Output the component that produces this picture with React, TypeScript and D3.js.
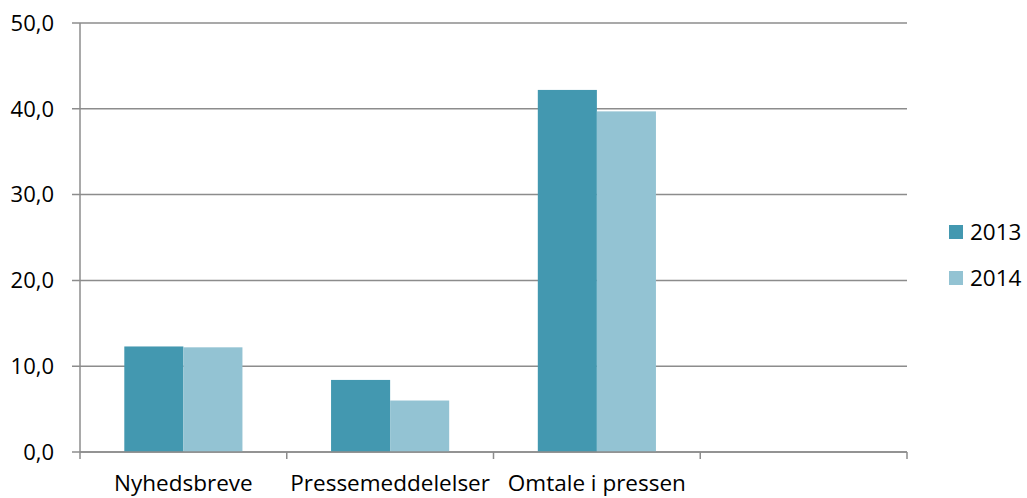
import * as d3 from 'd3';
import { useEffect, useRef } from 'react';

const categories = ['Nyhedsbreve', 'Pressemeddelelser', 'Omtale i pressen', ''];
const seriesNames = ['2013', '2014'];
const values2013 = [12.3, 8.4, 42.2];
const values2014 = [12.2, 6.0, 39.7];
const yTicks = [0, 10, 20, 30, 40, 50];
const colors = ['#4398B0', '#93C3D3'];

function App(): JSX.Element {
  const svgRef = useRef<SVGSVGElement | null>(null);
  const width = 1027;
  const height = 498;
  const margin = { top: 23, right: 120, bottom: 46, left: 80 };

  useEffect(() => {
    if (svgRef.current) svgRef.current.innerHTML = '';
    const svg = d3.select(svgRef.current);
    const font = '"Open Sans", Calibri, sans-serif';
    const gray = '#8c8c8c';
    const fs = 22.5;

    const x = d3
      .scaleBand()
      .domain(categories.map((c, i) => `${i}`))
      .range([margin.left, width - margin.right])
      .paddingInner(0)
      .paddingOuter(0);
    const y = d3
      .scaleLinear()
      .domain([0, 50])
      .range([height - margin.bottom, margin.top]);

    const bw = x.bandwidth();
    // excel-style gap width 150%
    const barW = bw / 3.5;

    // gridlines
    yTicks.forEach((t) => {
      svg
        .append('line')
        .attr('x1', margin.left - 8)
        .attr('x2', width - margin.right)
        .attr('y1', y(t))
        .attr('y2', y(t))
        .attr('stroke', gray)
        .attr('stroke-width', 1.5);
      svg
        .append('text')
        .attr('x', 54)
        .attr('y', y(t))
        .attr('dy', '0.35em')
        .attr('text-anchor', 'end')
        .attr('font-family', font)
        .attr('font-size', 22)
        .attr('fill', '#000')
        .text(d3.format('.1f')(t).replace('.', ','));
    });

    // bars
    const series = [values2013, values2014];
    series.forEach((vals, s) => {
      vals.forEach((v, i) => {
        const x0 = (x(`${i}`) as number) + (bw - 2 * barW) / 2 + s * barW;
        svg
          .append('rect')
          .attr('x', x0)
          .attr('y', y(v))
          .attr('width', barW)
          .attr('height', y(0) - y(v))
          .attr('fill', colors[s]);
      });
    });

    // axes
    svg
      .append('line')
      .attr('x1', margin.left)
      .attr('x2', margin.left)
      .attr('y1', y(50))
      .attr('y2', y(0) + 7)
      .attr('stroke', gray)
      .attr('stroke-width', 1.5);
    svg
      .append('line')
      .attr('x1', margin.left)
      .attr('x2', width - margin.right)
      .attr('y1', y(0))
      .attr('y2', y(0))
      .attr('stroke', gray)
      .attr('stroke-width', 1.5);

    categories.forEach((c, i) => {
      const xs = (x(`${i}`) as number) + bw;
      svg
        .append('line')
        .attr('x1', xs)
        .attr('x2', xs)
        .attr('y1', y(0))
        .attr('y2', y(0) + 7)
        .attr('stroke', gray)
        .attr('stroke-width', 1.5);
      svg
        .append('text')
        .attr('x', (x(`${i}`) as number) + bw / 2)
        .attr('y', 491)
        .attr('text-anchor', 'middle')
        .attr('font-family', font)
        .attr('font-size', fs)
        .attr('fill', '#000')
        .text(c);
    });

    // legend
    seriesNames.forEach((n, i) => {
      const ly = 232 + i * 46;
      svg
        .append('rect')
        .attr('x', 949)
        .attr('y', ly - 7)
        .attr('width', 14)
        .attr('height', 14)
        .attr('fill', colors[i]);
      svg
        .append('text')
        .attr('x', 970)
        .attr('y', ly)
        .attr('dy', '0.35em')
        .attr('font-family', font)
        .attr('font-size', fs)
        .attr('fill', '#000')
        .text(n);
    });
  }, []);

  return (
    <div style={{ position: 'absolute', left: 0, top: 0 }}>
      <svg ref={svgRef} width={width} height={height} style={{ display: 'block' }} />
    </div>
  );
}

export default App;
